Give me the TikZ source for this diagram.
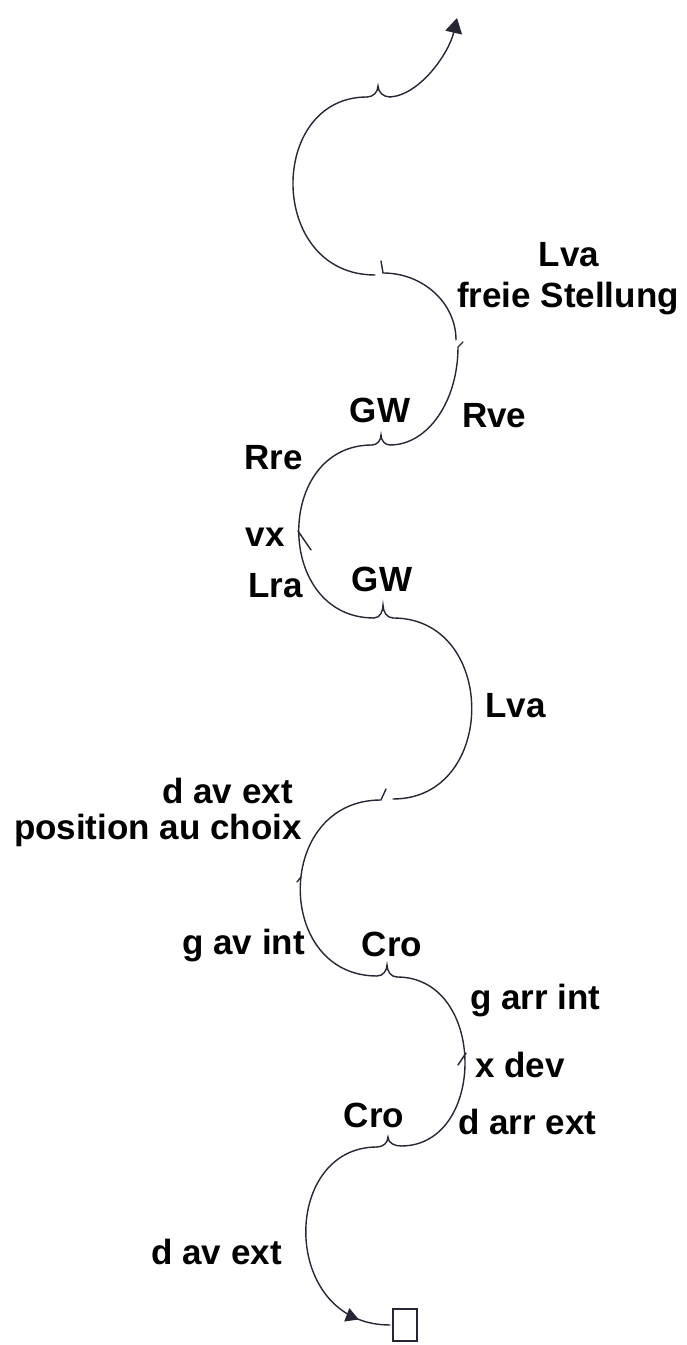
\documentclass[tikz,border=0pt]{standalone}
\usepackage{fontspec}
\setmainfont{Liberation Sans}
\usetikzlibrary{arrows.meta,decorations.markings}
\definecolor{ink}{RGB}{38,38,52}

\begin{document}
\begin{tikzpicture}
  [x=1pt,y=1pt,line cap=round,
   every node/.style={inner sep=0pt,font=\fontsize{35}{40}\selectfont\bfseries},
   trace/.style={draw=ink,line width=1.4pt}]
  \useasboundingbox (0,0) rectangle (686,1345);

  % start mark
  \node[trace,minimum width=24pt,minimum height=32pt] (start) at (405,20) {};

  % junction points (feet and peaks)
  \coordinate (s0) at (390,20);
  \coordinate (c1l) at (377,198);  \coordinate (pcro1) at (388,208); \coordinate (c1r) at (401,199);
  \coordinate (c2r) at (397,368);  \coordinate (pcro2) at (387,380); \coordinate (c2l) at (377,369);
  \coordinate (e3) at (381,545);   \coordinate (e3t) at (386,556);   \coordinate (s4) at (393,546);
  \coordinate (g1r) at (393,727);  \coordinate (pgw1) at (383,740);  \coordinate (g1l) at (374,727);
  \coordinate (g2l) at (372,900);  \coordinate (pgw2) at (381,910);  \coordinate (g2r) at (390,900);
  \coordinate (m6a) at (458,998);  \coordinate (m6t) at (463,1003);  \coordinate (m6b) at (456,1005);
  \coordinate (e6) at (383,1072);  \coordinate (e6t) at (381,1084);  \coordinate (s7) at (375,1070);
  \coordinate (t7l) at (367,1248); \coordinate (ptop) at (378,1259); \coordinate (t7r) at (390,1248);
  \coordinate (tip) at (457,1327);

  % labels
  \node[anchor=base] (lva1) at (569,1078) {Lva};
  \node[anchor=base] (frei) at (568,1037) {freie Stellung};
  \node[anchor=base] (gw1) at (380,922) {GW};
  \node[anchor=base west] (rve) at (462,917) {Rve};
  \node[anchor=base east] (rre) at (303,875) {Rre};
  \node[anchor=base east] (vx) at (285,798) {vx};
  \node[anchor=base east] (lra) at (303,747) {Lra};
  \node[anchor=base] (gw2) at (382,753) {GW};
  \node[anchor=base west] (lva2) at (485,627) {Lva};
  \node[anchor=base east] (dav1) at (293,541) {d av ext};
  \node[anchor=base east] (pos) at (302,505) {position au choix};
  \node[anchor=base east] (gav) at (305,390) {g av int};
  \node[anchor=base] (cro1) at (392,388) {Cro};
  \node[anchor=base west] (garr) at (470,335) {g arr int};
  \node[anchor=base west] (xdev) at (475,267) {x dev};
  \node[anchor=base] (cro2) at (374,217) {Cro};
  \node[anchor=base west] (darr) at (458,210) {d arr ext};
  \node[anchor=base east] (dav2) at (282,80) {d av ext};

  % the tracing
  \draw[trace,postaction={decorate},decoration={markings,
    mark=at position 0.12 with {\arrowreversed{Triangle[length=13pt,width=14pt]}}}]
    (s0) .. controls +(-110,0) and +(-97,0) .. (c1l);
  \draw[trace] (c1l) to[out=0,in=-90] (pcro1) to[out=-90,in=180] (c1r);
  \draw[trace] (c1r) .. controls +(86,0) and +(90,0) .. (c2r);
  \draw[trace] (c2r) to[out=180,in=-90] (pcro2) to[out=-90,in=0] (c2l);
  \draw[trace] (c2l) .. controls +(-103,0) and +(-107,0) .. (e3) -- (e3t);
  \draw[trace] (s4) .. controls +(105,0) and +(105,0) .. (g1r);
  \draw[trace] (g1r) to[out=180,in=-90] (pgw1) to[out=-90,in=0] (g1l);
  \draw[trace] (g1l) .. controls +(-100,0) and +(-98,0) .. (g2l);
  \draw[trace] (g2l) to[out=0,in=-90] (pgw2) to[out=-90,in=180] (g2r);
  \draw[trace] (g2r) .. controls +(38,0) and +(0,-54) .. (m6a) -- (m6t);
  \draw[trace] (m6b) .. controls +(0,37) and +(40,0) .. (e6) -- (e6t);
  \draw[trace] (s7) .. controls +(-108,0) and +(-100,0) .. (t7l);
  \draw[trace] (t7l) to[out=0,in=-90] (ptop) to[out=-90,in=180] (t7r);
  \draw[trace,-{Triangle[length=15pt,width=17pt]}] (t7r) .. controls +(30,2) and +(-8,-35) .. (tip);

  % small marks on the tracing
  \draw[trace] (301,468) -- (297,463);
  \draw[trace] (298,814) -- (311,795);
  \draw[trace] (458,280) -- (466,292);
\end{tikzpicture}
\end{document}
